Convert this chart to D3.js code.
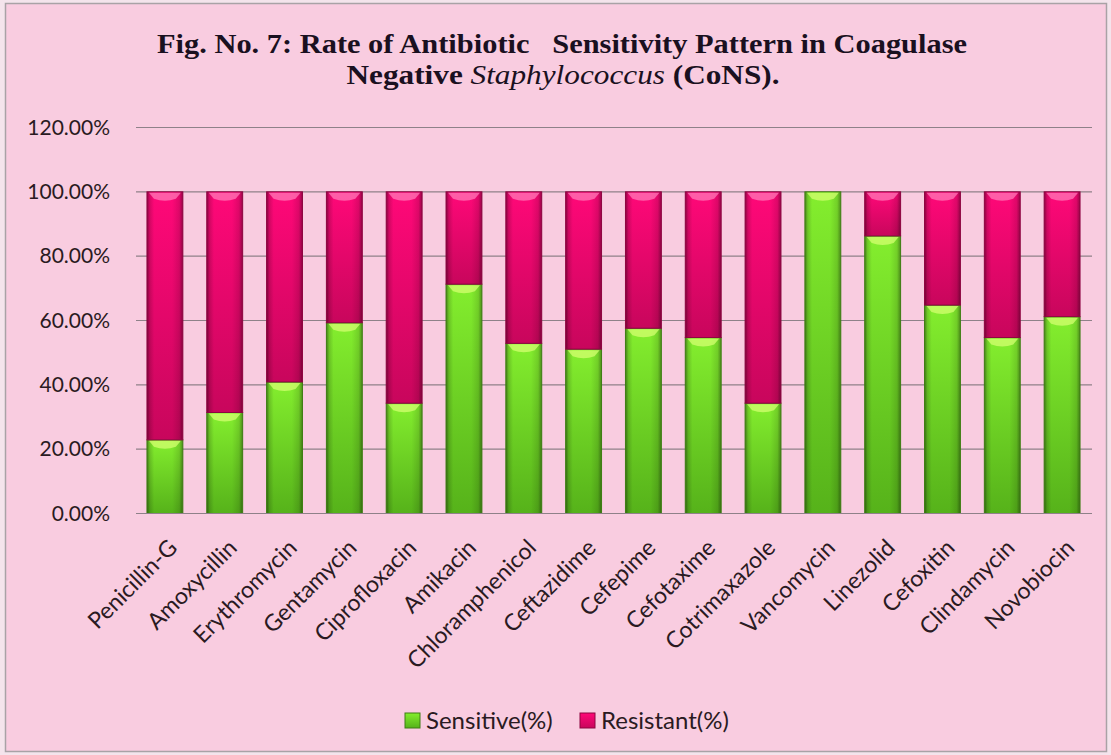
<!DOCTYPE html>
<html><head><meta charset="utf-8">
<script src="https://cdn.jsdelivr.net/npm/d3@7"></script>
<style>
html,body{margin:0;padding:0;background:#f4e4ec;}
svg{display:block;}
</style></head>
<body>
<svg id="chart" width="1111" height="755"></svg>
<script>
const categories = ["Penicillin-G","Amoxycillin","Erythromycin","Gentamycin","Ciprofloxacin","Amikacin","Chloramphenicol","Ceftazidime","Cefepime","Cefotaxime","Cotrimaxazole","Vancomycin","Linezolid","Cefoxitin","Clindamycin","Novobiocin"];
const sensitive = [22.9, 31.4, 40.9, 59.3, 34.3, 71.3, 52.9, 51.1, 57.6, 54.7, 34.3, 100, 86.3, 64.8, 54.7, 61.2];
const resistant = [77.1, 68.6, 59.1, 40.7, 65.7, 28.7, 47.1, 48.9, 42.4, 45.3, 65.7, 0, 13.7, 35.2, 45.3, 38.8];
const seriesNames = ["Sensitive(%)", "Resistant(%)"];
const yTicks = [0, 0.2, 0.4, 0.6, 0.8, 1.0, 1.2];
const titleLine1 = "Fig. No. 7: Rate of Antibiotic   Sensitivity Pattern in Coagulase";
const titleLine2a = "Negative ";
const titleLine2b = "Staphylococcus";
const titleLine2c = " (CoNS).";

const W = 1111, H = 755;
const svg = d3.select("#chart");
const defs = svg.append("defs");

function vgrad(id, top, bottom){
  const g = defs.append("linearGradient").attr("id", id).attr("x1",0).attr("y1",0).attr("x2",0).attr("y2",1);
  g.append("stop").attr("offset","0%").attr("stop-color", top);
  g.append("stop").attr("offset","100%").attr("stop-color", bottom);
}
vgrad("gGreen", "#84ee2e", "#56b21a");
vgrad("gPink", "#ff0878", "#c8065c");
const hs = defs.append("linearGradient").attr("id","hShade").attr("x1",0).attr("y1",0).attr("x2",1).attr("y2",0);
[[0,0.45],[0.08,0.15],[0.2,0],[0.7,0],[0.9,0.12],[1,0.4]].forEach(([o,a])=>hs.append("stop").attr("offset",o).attr("stop-color","#000").attr("stop-opacity",a));

// background
svg.append("rect").attr("x",5.5).attr("y",3.5).attr("width",1101).attr("height",748)
  .attr("fill","#f9cce0").attr("stroke","#a9a2a6").attr("stroke-width",1.5);

// title
const title = svg.append("g").attr("font-family","'Liberation Serif','Times New Roman',serif")
  .attr("font-weight","bold").attr("fill","#1a1020").attr("text-anchor","middle");
title.append("text").attr("x",562).attr("y",53).attr("font-size",27)
  .attr("textLength",810).attr("lengthAdjust","spacingAndGlyphs")
  .style("white-space","pre").text(titleLine1);
const t2 = title.append("text").attr("x",563).attr("y",84).attr("font-size",27)
  .attr("textLength",433).attr("lengthAdjust","spacingAndGlyphs").style("white-space","pre");
t2.append("tspan").text(titleLine2a);
t2.append("tspan").attr("font-style","italic").attr("font-weight","normal").text(titleLine2b);
t2.append("tspan").text(titleLine2c);

// scales
const x = d3.scaleBand().domain(categories).range([135,1092]).paddingInner(0.4).paddingOuter(0.2);
const y = d3.scaleLinear().domain([0,1.2]).range([513.5,127.5]);

// gridlines
svg.append("g").selectAll("line").data(yTicks.filter(d=>d>0)).join("line")
  .attr("x1",136).attr("x2",1092).attr("y1",d=>y(d)).attr("y2",d=>y(d))
  .attr("stroke","#8f8189").attr("stroke-width",1.2);

// y axis labels
const yAxis = svg.append("g").attr("transform","translate(135,0)")
  .call(d3.axisLeft(y).tickValues(yTicks).tickFormat(d3.format(".2%")).tickSize(0).tickPadding(25));
yAxis.select(".domain").remove();
yAxis.selectAll("text").attr("font-family","Lato, 'Open Sans', sans-serif").attr("font-size",21).attr("fill","#2a1a22");

// stacked data
const rows = categories.map((c,i)=>({cat:c, s:sensitive[i]/100, r:resistant[i]/100}));
const stack = d3.stack().keys(["s","r"])(rows);
const fills = {s:"url(#gGreen)", r:"url(#gPink)"};
const strokes = {s:"#3f7d14", r:"#8e0541"};
const bw = x.bandwidth();

stack.forEach(layer=>{
  const key = layer.key;
  const g = svg.append("g");
  const segs = layer.filter(d=>d[1]-d[0] > 0.0001);
  g.selectAll("rect.base").data(segs).join("rect").attr("class","base")
    .attr("x",d=>x(d.data.cat)).attr("width",bw)
    .attr("y",d=>y(d[1])).attr("height",d=>y(d[0])-y(d[1]))
    .attr("fill",fills[key]);
  g.selectAll("rect.shade").data(segs).join("rect").attr("class","shade")
    .attr("x",d=>x(d.data.cat)).attr("width",bw)
    .attr("y",d=>y(d[1])).attr("height",d=>y(d[0])-y(d[1]))
    .attr("fill","url(#hShade)")
    .attr("stroke",strokes[key]).attr("stroke-width",1);
  g.selectAll("path.cap").data(segs).join("path").attr("class","cap")
    .attr("d",d=>{
      const x0 = x(d.data.cat)+2, x1 = x(d.data.cat)+bw-2, t = y(d[1])+1;
      return `M${x0},${t} L${x1},${t} L${x1-5},${t+6} Q${(x0+x1)/2},${t+10} ${x0+5},${t+6} Z`;
    })
    .attr("fill", key==="s" ? "#d4ff70" : "#ff7ab8").attr("opacity",0.75);
});

// x axis
const xAxis = svg.append("g").attr("transform","translate(0,513.5)")
  .call(d3.axisBottom(x).tickSize(0));
xAxis.select(".domain").attr("stroke","#8f8189").attr("stroke-width",1.2).attr("d","M136,0H1092");
xAxis.selectAll("text")
  .attr("font-family","Lato, 'Open Sans', sans-serif").attr("font-size",23).attr("fill","#2a1a22")
  .attr("text-anchor","end").attr("x",0).attr("y",0).attr("dy","0.35em")
  .attr("transform","translate(8,30) rotate(-45)");

// legend
const legend = svg.append("g").attr("font-family","Lato, 'Open Sans', sans-serif").attr("font-size",24).attr("fill","#2a1a22");
const legendItems = [{name:seriesNames[0], fill:"url(#gGreen)", stroke:strokes.s, x:405},
                     {name:seriesNames[1], fill:"url(#gPink)", stroke:strokes.r, x:580}];
const li = legend.selectAll("g").data(legendItems).join("g").attr("transform",d=>`translate(${d.x},713)`);
li.append("rect").attr("width",15).attr("height",15).attr("fill",d=>d.fill).attr("stroke",d=>d.stroke);
li.append("text").attr("x",21).attr("y",16).text(d=>d.name);
</script>
</body></html>
